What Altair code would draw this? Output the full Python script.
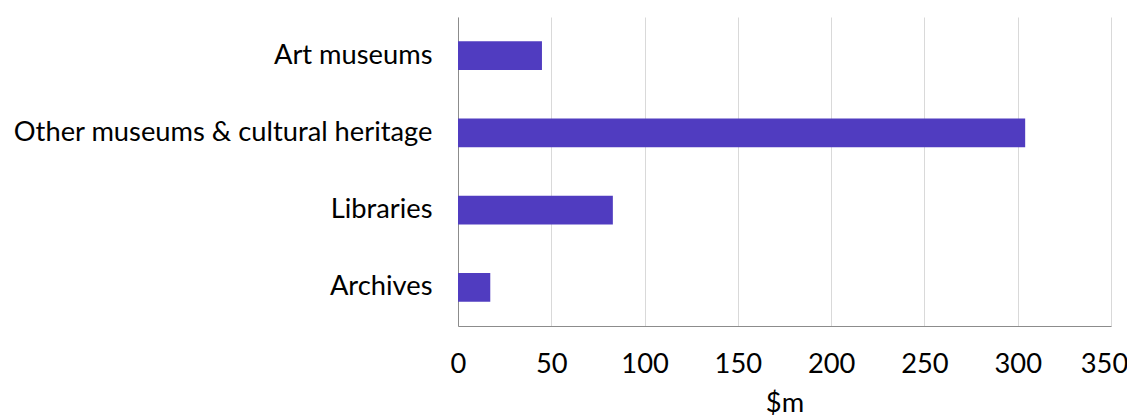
import altair as alt
import pandas as pd

categories = ["Art museums", "Other museums & cultural heritage", "Libraries", "Archives"]
values = [45, 304, 83, 17.3]
x_ticks = [0, 50, 100, 150, 200, 250, 300, 350]

df = pd.DataFrame({"category": categories, "value": values})

FONT = "Lato"
FS = 27.3

chart = alt.Chart(df).mark_bar(color="#503CC0").encode(
    x=alt.X("value:Q",
            scale=alt.Scale(domain=[0, 350], nice=False),
            axis=alt.Axis(values=x_ticks,
                          title="$m", titleFontSize=FS, titleFont=FONT,
                          titleFontWeight="normal", titleColor="#000000",
                          titlePadding=12,
                          labelFontSize=FS, labelFont=FONT, labelColor="#000000",
                          labelPadding=24, ticks=False, labelFlush=False,
                          labelOverlap=False, labelBound=False,
                          labelOffset={"condition": {"test": "datum.value == 350", "value": -7}, "value": 0},
                          domainColor="#8c8c8c", gridColor="#d9d9d9")),
    y=alt.Y("category:N", sort=categories,
            scale=alt.Scale(paddingInner=0.63, paddingOuter=0.315),
            axis=alt.Axis(title=None, labelFontSize=FS, labelFont=FONT,
                          labelColor="#000000", labelPadding=26, ticks=False,
                          domainColor="#8c8c8c", grid=False, labelLimit=500)),
).properties(
    width=653, height=309,
    autosize=alt.AutoSizeParams(type="none"),
    padding={"left": 450, "top": 9, "right": 16, "bottom": 92},
).configure_view(stroke=None)

chart.save("out.html", embed_options={"renderer": "svg", "actions": False})
